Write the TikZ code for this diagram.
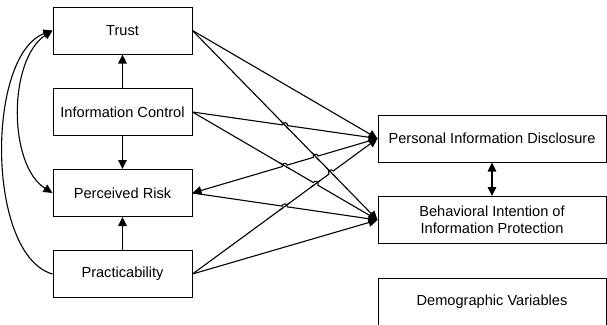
\documentclass[tikz,border=0pt]{standalone}
\usepackage{fontspec}
\setmainfont{Liberation Sans}
\usetikzlibrary{arrows.meta,calc}
\newcommand\hopat[4]{% #1--#2 : line with hop (#2 = right end), #3--#4 : line passing through
  \coordinate (hx) at (intersection of #1--#2 and #3--#4);
  \draw[white, line width=3.2pt] ($(hx)!2.8pt!(#1)$) -- ($(hx)!2.8pt!(#2)$);
  \draw[ln] ($(hx)!6pt!(#3)$) -- ($(hx)!6pt!(#4)$);
  \draw[ln] ($(hx)!3.2pt!(#1)$) -- ($(hx)!2.6pt!(#1)$) to[bend left=90, looseness=1.7] ($(hx)!2.6pt!(#2)$) -- ($(hx)!3.2pt!(#2)$);
}
\begin{document}
\begin{tikzpicture}[x=1pt,y=-1pt,
  box/.style={draw, line width=1pt, minimum width=139pt, minimum height=47pt, inner sep=0pt, align=center, font=\fontsize{14.6}{17}\selectfont},
  rbox/.style={box, minimum width=228pt},
  ln/.style={line width=1.1pt},
  conn/.style={ln, -{Triangle[length=9pt,width=8.5pt]}},
  bconn/.style={ln, {Triangle[length=9pt,width=8.5pt]}-{Triangle[length=9pt,width=8.5pt]}}]
\clip (0,0) rectangle (607,324);
\fill[white] (0,0) rectangle (607,324);
\node[box] (trust) at (122.5,30.5) {Trust};
\node[box] (ic) at (122.5,112) {Information Control};
\node[box] (pr) at (122.5,193) {Perceived Risk};
\node[box] (pract) at (122.5,274) {Practicability};
\node[rbox] (pid) at (492,138.5) {Personal Information Disclosure};
\node[rbox] (biip) at (492,220) {Behavioral Intention of\\Information Protection};
\node[rbox] (demo) at (492,301.5) {Demographic Variables};
% vertical
\draw[conn] (ic) -- (trust);
\draw[conn] (ic) -- (pr);
\draw[conn] (pract) -- (pr);
\draw[bconn] (pid) -- (biip);
% crossing lines
\draw[conn] (trust.east) -- (pid.west);
\draw[conn] (trust.east) -- (biip.west);
\draw[conn] (ic.east) -- (pid.west);
\draw[conn] (ic.east) -- (biip.west);
\draw[conn] (pid.west) -- (pr.east);
\draw[conn] (pr.east) -- (biip.west);
\draw[conn] (pract.east) -- (pid.west);
\draw[conn] (pract.east) -- (biip.west);
% line hops at crossings
\hopat{ic.east}{pid.west}{trust.east}{biip.west}
\hopat{pr.east}{pid.west}{trust.east}{biip.west}
\hopat{pr.east}{pid.west}{ic.east}{biip.west}
\hopat{ic.east}{biip.west}{pract.east}{pid.west}
\hopat{pract.east}{pid.west}{trust.east}{biip.west}
\hopat{pr.east}{biip.west}{pract.east}{pid.west}
% curves
\draw[conn] (pract.west) .. controls (-14,255) and (-14,55) .. (trust.west);
\draw[bconn] (trust.west) .. controls (8,60) and (8,165) .. (pr.west);
\end{tikzpicture}
\end{document}
